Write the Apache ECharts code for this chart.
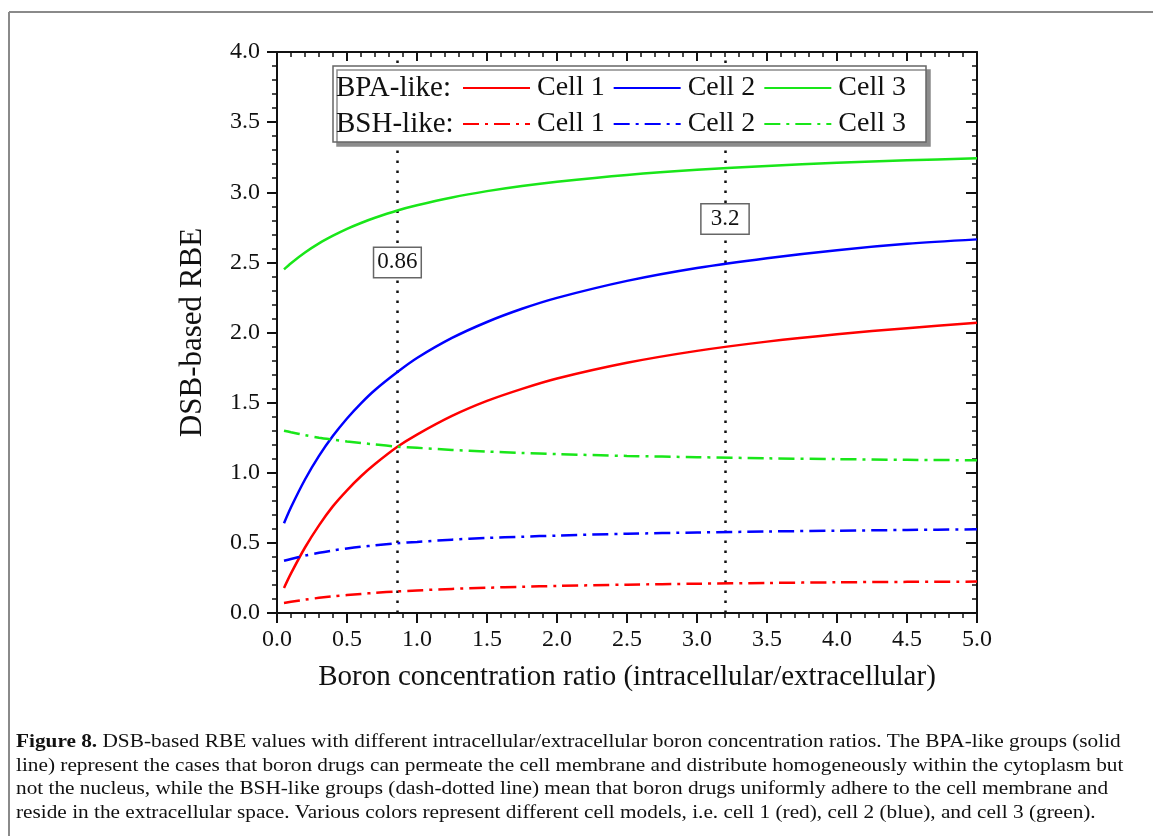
<!DOCTYPE html>
<html>
<head>
<meta charset="utf-8">
<title>DSB-based RBE</title>
<script src="https://cdn.jsdelivr.net/npm/echarts@6/dist/echarts.min.js"></script>
<style>
html, body { margin: 0; padding: 0; background: #fff; }
#main { width: 1153px; height: 836px; }
</style>
</head>
<body>
<div id="main"></div>
<script>
// boron concentration ratio (x)
const ratio = [0.05, 0.1, 0.2, 0.3, 0.4, 0.5, 0.6, 0.7, 0.86, 1.0, 1.25, 1.5, 1.75, 2.0, 2.5, 3.0, 3.5, 4.0, 4.5, 5.0];
// BPA-like (solid)
const bpaCell1 = [0.178, 0.282, 0.467, 0.625, 0.762, 0.875, 0.975, 1.062, 1.185, 1.272, 1.405, 1.512, 1.598, 1.672, 1.784, 1.869, 1.935, 1.988, 2.031, 2.07];
const bpaCell2 = [0.64, 0.754, 0.952, 1.12, 1.263, 1.387, 1.495, 1.59, 1.718, 1.818, 1.961, 2.075, 2.169, 2.247, 2.368, 2.46, 2.53, 2.587, 2.632, 2.664];
const bpaCell3 = [2.45, 2.494, 2.57, 2.635, 2.69, 2.739, 2.781, 2.818, 2.87, 2.907, 2.963, 3.008, 3.045, 3.075, 3.123, 3.16, 3.188, 3.21, 3.228, 3.242];
// BSH-like (dash-dot)
const bshCell1 = [0.071, 0.08, 0.095, 0.108, 0.119, 0.128, 0.136, 0.144, 0.154, 0.161, 0.172, 0.18, 0.187, 0.193, 0.202, 0.209, 0.214, 0.219, 0.222, 0.224];
const bshCell2 = [0.372, 0.385, 0.409, 0.429, 0.446, 0.46, 0.472, 0.482, 0.498, 0.507, 0.523, 0.535, 0.544, 0.552, 0.565, 0.574, 0.581, 0.587, 0.592, 0.597];
const bshCell3 = [1.30, 1.289, 1.268, 1.25, 1.236, 1.223, 1.212, 1.202, 1.186, 1.178, 1.163, 1.151, 1.141, 1.133, 1.12, 1.111, 1.103, 1.097, 1.092, 1.089];
// dotted reference lines and their boxed labels
const markerX = [0.86, 3.2];
const markerText = ['0.86', '3.2'];
const markerLabelY = [2.5, 2.81];

const captionLines = [
  '{b|Figure 8.} DSB-based RBE values with different intracellular/extracellular boron concentration ratios. The BPA-like groups (solid',
  'line) represent the cases that boron drugs can permeate the cell membrane and distribute homogeneously within the cytoplasm but',
  'not the nucleus, while the BSH-like groups (dash-dotted line) mean that boron drugs uniformly adhere to the cell membrane and',
  'reside in the extracellular space. Various colors represent different cell models, i.e. cell 1 (red), cell 2 (blue), and cell 3 (green).'
];

const font = 'Liberation Serif';
const RED = '#ff0000', BLUE = '#0000ff', GREEN = '#19e619';
const DASHDOT = [16, 6, 3, 6];

const pairs = ys => ratio.map((x, i) => [x, ys[i]]);

function curve(name, ys, color, dashed) {
  return {
    name: name,
    type: 'line',
    data: pairs(ys),
    smooth: 0.3,
    symbol: 'none',
    silent: true,
    z: 3,
    lineStyle: { color: color, width: 2.5, type: dashed ? DASHDOT : 'solid', cap: 'butt' },
    itemStyle: { color: color }
  };
}

function frameAxis(pos, isX) {
  return {
    type: 'value',
    position: pos,
    min: 0,
    max: isX ? 5 : 4,
    interval: 0.5,
    axisLine: { show: true, onZero: false, lineStyle: { color: '#111', width: 2 } },
    axisTick: { show: true, inside: false, length: 10, lineStyle: { color: '#111', width: 2 } },
    minorTick: { show: true, splitNumber: 5, length: 5, lineStyle: { color: '#111', width: 1.5 } },
    splitLine: { show: false },
    axisLabel: { show: false }
  };
}

const xBottom = Object.assign(frameAxis('bottom', true), {
  axisLabel: { show: true, formatter: v => v.toFixed(1), fontFamily: font, fontSize: 24, color: '#111', margin: 15 },
  name: 'Boron concentration ratio (intracellular/extracellular)',
  nameLocation: 'middle',
  nameGap: 50,
  nameTextStyle: { fontFamily: font, fontSize: 29, color: '#111' }
});
const xTop = frameAxis('top', true);
xTop.axisTick.inside = true;
xTop.axisTick.length = 9;

const yLeft = Object.assign(frameAxis('left', false), {
  axisLabel: { show: true, formatter: v => v.toFixed(1), fontFamily: font, fontSize: 24, color: '#111', margin: 17 },
  name: 'DSB-based RBE',
  nameLocation: 'middle',
  nameGap: 69,
  nameTextStyle: { fontFamily: font, fontSize: 31, color: '#111' }
});
const yRight = frameAxis('right', false);
yRight.axisTick.inside = true;
yRight.axisTick.length = 11;

const legendCommon = {
  orient: 'horizontal',
  left: 462,
  z: 8,
  itemWidth: 67,
  itemHeight: 14,
  itemGap: 8,
  selectedMode: false,
  padding: 0,
  itemStyle: { opacity: 0 },
  formatter: n => n.replace(/^B.. /, ''),
  textStyle: { fontFamily: font, fontSize: 28, color: '#111', lineHeight: 32, padding: [0, 0, 0, 2] }
};

const chart = echarts.init(document.getElementById('main'), null, { renderer: 'canvas' });

chart.setOption({
  backgroundColor: '#fff',
  animation: false,
  grid: { left: 277, right: 176, top: 52, bottom: 223, containLabel: false },
  xAxis: [xBottom, xTop],
  yAxis: [yLeft, yRight],
  legend: [
    Object.assign({}, legendCommon, { top: 72, data: ['BPA Cell 1', 'BPA Cell 2', 'BPA Cell 3'] }),
    Object.assign({}, legendCommon, { top: 108, data: ['BSH Cell 1', 'BSH Cell 2', 'BSH Cell 3'] })
  ],
  graphic: [
    // figure frame (top and left edges)
    { type: 'line', shape: { x1: 9, y1: 12, x2: 1153, y2: 12 }, style: { stroke: '#8a8a8a', lineWidth: 2 }, silent: true },
    { type: 'line', shape: { x1: 9, y1: 12, x2: 9, y2: 836 }, style: { stroke: '#8a8a8a', lineWidth: 2 }, silent: true },
    // legend box, drawn over the dotted lines
    {
      type: 'rect', z: 7, silent: true,
      shape: { x: 333, y: 66, width: 593, height: 76 },
      style: { fill: '#fff', stroke: '#666', lineWidth: 1.5, shadowColor: '#8c8c8c', shadowOffsetX: 4, shadowOffsetY: 4, shadowBlur: 0 }
    },
    { type: 'text', z: 8, silent: true, x: 336, y: 88, style: { text: 'BPA-like:', font: '29px "Liberation Serif"', fill: '#111', verticalAlign: 'middle' } },
    { type: 'text', z: 8, silent: true, x: 336, y: 124, style: { text: 'BSH-like:', font: '29px "Liberation Serif"', fill: '#111', verticalAlign: 'middle' } }
  ].concat(captionLines.map((t, i) => ({
    type: 'text', silent: true, x: 16, y: 742 + i * 23.6, scaleX: 1.12,
    style: {
      text: t, fill: '#111', fontFamily: font, fontSize: 19, verticalAlign: 'middle',
      rich: { b: { fontFamily: font, fontSize: 19, fontWeight: 'bold', fill: '#111' } }
    }
  }))),
  series: [
    {
      name: 'markers',
      type: 'line',
      data: [],
      silent: true,
      z: 2,
      markLine: {
        z: 2,
        symbol: 'none',
        silent: true,
        label: { show: false },
        lineStyle: { color: '#111', width: 2.5, type: [2.5, 7.5] },
        data: markerX.map(x => ({ xAxis: x }))
      },
      markPoint: {
        z: 5,
        symbol: 'rect',
        symbolSize: 0,
        silent: true,
        data: markerX.map((x, i) => ({
          name: markerText[i],
          coord: [x, markerLabelY[i]],
          label: { padding: i === 0 ? [4, 3, 2, 3] : [4, 9, 2, 9] }
        })),
        label: {
          show: true,
          position: 'inside',
          formatter: p => p.name,
          fontFamily: font,
          fontSize: 23,
          color: '#111',
          backgroundColor: '#fff',
          borderColor: '#666',
          borderWidth: 1.5
        }
      }
    },
    curve('BPA Cell 1', bpaCell1, RED, false),
    curve('BPA Cell 2', bpaCell2, BLUE, false),
    curve('BPA Cell 3', bpaCell3, GREEN, false),
    curve('BSH Cell 1', bshCell1, RED, true),
    curve('BSH Cell 2', bshCell2, BLUE, true),
    curve('BSH Cell 3', bshCell3, GREEN, true)
  ]
});
</script>
</body>
</html>
